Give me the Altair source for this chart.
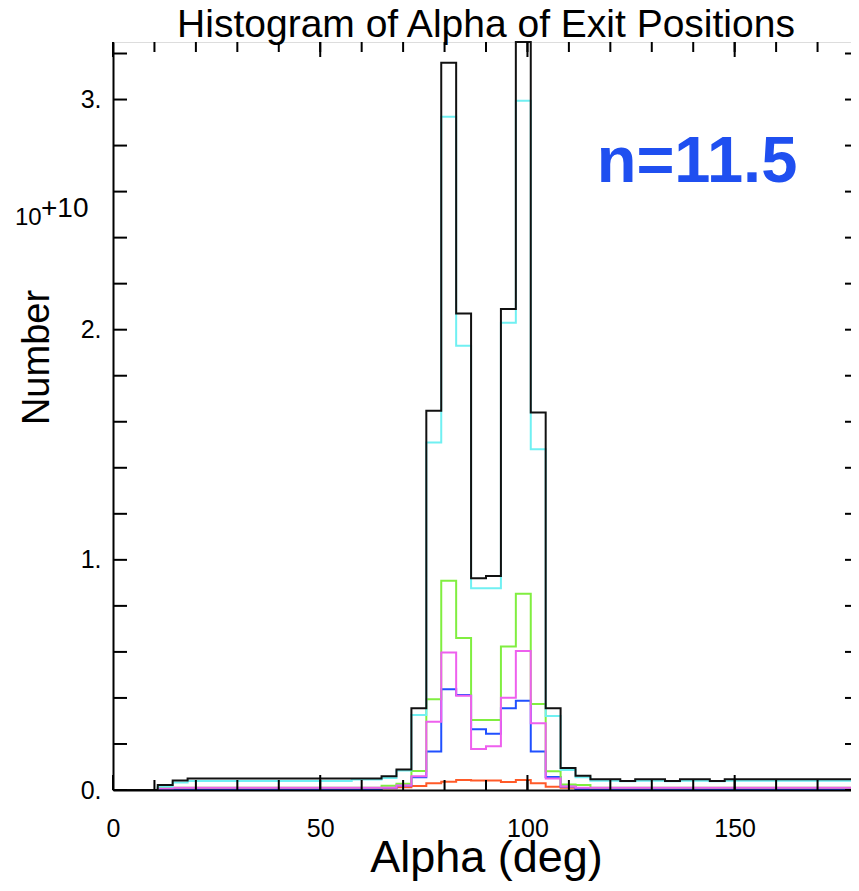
import altair as alt
import pandas as pd

# ---------------- data (values in units of 1e10) ----------------
bin_width = 3.6
n_bins = 50

black = ([0, 0, 0, 0.022, 0.041] + [0.05] * 13 +
         [0.06, 0.089, 0.355, 1.648, 3.16, 2.07, 0.92, 0.93, 2.09, 3.25, 1.64, 0.355, 0.096, 0.062] +
         [0.047, 0.047, 0.039, 0.047, 0.047, 0.039, 0.047, 0.047, 0.039] + [0.047] * 9)
cyan = ([0, 0, 0, 0.015, 0.033] + [0.039] * 11 + [0.046, 0.046] +
        [0.052, 0.085, 0.326, 1.51, 2.925, 1.93, 0.877, 0.877, 2.03, 2.995, 1.48, 0.322, 0.087, 0.055] +
        [0.04, 0.04, 0.038, 0.04, 0.04, 0.038, 0.04, 0.04, 0.038] + [0.04] * 9)
green = ([0, 0, 0] + [0.01] * 15 +
         [0.019, 0.027, 0.083, 0.394, 0.909, 0.66, 0.304, 0.304, 0.623, 0.853, 0.374, 0.082, 0.024, 0.022] +
         [0.01] * 18)
magenta = ([0, 0, 0, 0.006] + [0.01] * 14 +
           [0.01, 0.02, 0.06, 0.297, 0.597, 0.409, 0.178, 0.19, 0.401, 0.604, 0.29, 0.05, 0.015, 0.01] +
           [0.01] * 18)
blue = ([0, 0, 0] + [0.004] * 15 +
        [0.01, 0.02, 0.055, 0.167, 0.438, 0.413, 0.264, 0.244, 0.355, 0.388, 0.167, 0.056, 0.015, 0.004] +
        [0.004] * 18)
red = ([0] * 12 + [0.004, 0.004, 0, 0.004, 0.004, 0.004] +
       [0.008, 0.012, 0.017, 0.029, 0.036, 0.043, 0.041, 0.041, 0.035, 0.043, 0.029, 0.014, 0.01, 0.006] +
       [0.006] * 5 + [0, 0.006, 0.006, 0.006] + [0] * 9)

series = [  # drawing order (last on top)
    ("red", red, "#ff5a28"),
    ("blue", blue, "#2050ff"),
    ("green", green, "#80ee40"),
    ("magenta", magenta, "#ee60ee"),
    ("cyan", cyan, "#70f0f2"),
    ("black", black, "#111111"),
]

x_minor_ticks = list(range(0, 181, 10))
x_major_ticks = [0, 50, 100, 150]
y_ticks = [round(0.2 * i, 1) for i in range(17)]
y_labels = [0, 1, 2, 3]

title_text = "Histogram of Alpha of Exit Positions"
n_text = "n=11.5"
exp_base = "10"
exp_power = "+10"

rows = []
for name, vals, _c in series:
    for i, v in enumerate(vals):
        rows.append({"series": name, "x": i * bin_width, "y": v})
    rows.append({"series": name, "x": n_bins * bin_width, "y": vals[-1]})
df = pd.DataFrame(rows)

# ---------------- layout ----------------
W, H = 746, 748
FONT = "Liberation Sans"

xscale = alt.Scale(domain=[0, 180], nice=False, zero=False)
yscale = alt.Scale(domain=[0, 3.25], nice=False)

xaxis = alt.Axis(values=x_major_ticks, ticks=False, tickSize=0, grid=False,
                 domain=True, domainColor="black", domainWidth=2, zindex=1,
                 labelFontSize=25, labelFont=FONT, labelColor="black", labelPadding=26,
                 labelFlush=False,
                 title="Alpha (deg)", titleFontSize=45, titleFont=FONT, titleFontWeight="normal",
                 titleColor="black", titleY=67, titleBaseline="middle")
yaxis = alt.Axis(values=y_labels, ticks=False, tickSize=0, grid=False,
                 domain=True, domainColor="black", domainWidth=2, zindex=1,
                 labelExpr="datum.value + '.'",
                 labelFontSize=25, labelFont=FONT, labelColor="black", labelPadding=12,
                 title="Number", titleFontSize=38, titleFont=FONT, titleFontWeight="normal",
                 titleColor="black", titleX=-76, titleY=315, titleBaseline="middle",
                 titleAngle=270)

X = alt.X("x:Q", scale=xscale, axis=xaxis)
Y = alt.Y("y:Q", scale=yscale, axis=yaxis)

layers = []
for name, _vals, color in series:
    layers.append(
        alt.Chart(df).transform_filter(alt.datum.series == name)
        .mark_line(interpolate="step-after", color=color, strokeWidth=2)
        .encode(x=X, y=Y)
    )

# tick marks pointing inward (IDL style)
xmin_df = pd.DataFrame({"v": x_minor_ticks})
xmaj_df = pd.DataFrame({"v": x_major_ticks})
y_df = pd.DataFrame({"v": y_ticks})
XT = alt.X("v:Q", scale=xscale, axis=xaxis)
YT = alt.Y("v:Q", scale=yscale, axis=yaxis)
tick_style = dict(color="black", strokeWidth=2)
layers += [
    alt.Chart(xmin_df).mark_rule(**tick_style).encode(x=XT, y=alt.value(H), y2=alt.value(H - 10)),
    alt.Chart(xmaj_df).mark_rule(**tick_style).encode(x=XT, y=alt.value(H), y2=alt.value(H - 15)),
    alt.Chart(xmin_df).mark_rule(**tick_style).encode(x=XT, y=alt.value(0), y2=alt.value(10)),
    alt.Chart(xmaj_df).mark_rule(**tick_style).encode(x=XT, y=alt.value(0), y2=alt.value(15)),
    alt.Chart(y_df).mark_rule(**tick_style).encode(y=YT, x=alt.value(0), x2=alt.value(14)),
    alt.Chart(y_df).mark_rule(**tick_style).encode(y=YT, x=alt.value(W - 14), x2=alt.value(W)),
]

# annotations
txt = pd.DataFrame({"t": [n_text], "a": [exp_base], "b": [exp_power], "title": [title_text]})
layers += [
    alt.Chart(txt).mark_text(font=FONT, fontSize=39, color="black", align="center",
                             baseline="alphabetic")
    .encode(x=alt.value(W / 2), y=alt.value(-5), text="title:N"),
    alt.Chart(txt).mark_text(font=FONT, fontSize=65, fontWeight="bold", color="#1f4ff0",
                             align="center", baseline="alphabetic")
    .encode(x=alt.value(584), y=alt.value(140), text="t:N"),
    alt.Chart(txt).mark_text(font=FONT, fontSize=24, color="black", align="left",
                             baseline="alphabetic")
    .encode(x=alt.value(-98), y=alt.value(183), text="a:N"),
    alt.Chart(txt).mark_text(font=FONT, fontSize=28, color="black", align="left",
                             baseline="alphabetic")
    .encode(x=alt.value(-72), y=alt.value(175), text="b:N"),
]

chart = (
    alt.layer(*layers)
    .properties(
        width=W, height=H,
        autosize=alt.AutoSizeParams(type="none"),
        padding={"left": 105, "top": 34, "right": -8, "bottom": 92},
    )
    .configure_view(stroke="black", strokeWidth=2)
    .configure(background="white")
)

chart.save("out.html", embed_options={"renderer": "svg", "actions": False})
